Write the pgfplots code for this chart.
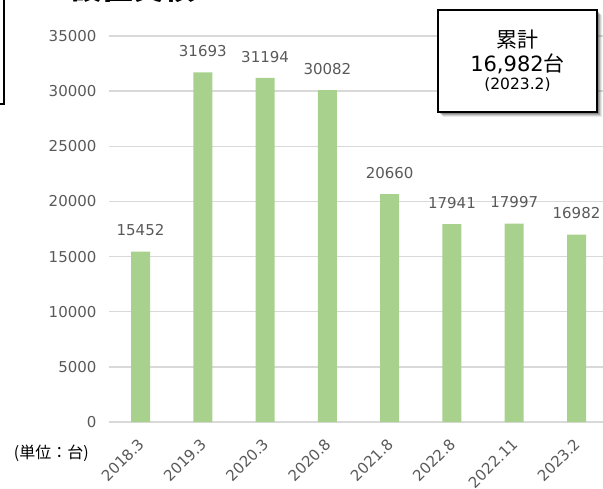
\documentclass[border=0pt]{standalone}
\usepackage{fontspec}
\setmainfont{DejaVu Sans}
\newfontfamily\cjk{Noto Sans CJK JP}
\usepackage{pgfplots}
\pgfplotsset{compat=1.18}
\definecolor{bargreen}{HTML}{A9D18E}
\definecolor{gridc}{HTML}{D9D9D9}
\definecolor{txt}{HTML}{595959}
\begin{document}
\begin{tikzpicture}[x=1pt,y=1pt]
\useasboundingbox (0,0) rectangle (603,488);
\clip (0,0) rectangle (603,488);
% partial box at left edge
\draw[line width=2.6pt, black] (-20,384) -- (4,384) -- (4,500);
% title (cut off at top)
\node[anchor=base west, inner sep=0pt, font=\cjk\bfseries\fontsize{31}{34}\selectfont] at (71,488.5) {設置実績};
\begin{axis}[
  at={(109pt,66pt)}, anchor=south west,
  scale only axis, width=494pt, height=386pt,
  xmin=-0.506, xmax=7.425, ymin=0, ymax=35000,
  axis line style={draw=none},
  ytick={0,5000,...,35000},
  ymajorgrids, major grid style={draw=gridc, line width=1.4pt},
  xtick={0,...,7},
  xticklabels={2018.3,2019.3,2020.3,2020.8,2021.8,2022.8,2022.11,2023.2},
  major tick length=0pt,
  tick style={draw=none},
  scaled y ticks=false,
  /pgf/number format/.cd, 1000 sep={}, assume math mode=true,
  /pgfplots/.cd,
  yticklabel style={font=\fontsize{15}{18}\selectfont, text=txt, xshift=-9pt},
  xticklabel style={font=\fontsize{15}{18}\selectfont, text=txt, xshift=-3.5pt, yshift=-10.5pt, rotate=45, anchor=north east},
  ybar, bar width=19pt,
  nodes near coords,
  nodes near coords style={font=\fontsize{15}{18}\selectfont, text=txt, yshift=12pt},
]
\addplot[fill=bargreen, draw=none] coordinates {
(0,15452) (1,31693) (2,31194) (3,30082) (4,20660) (5,17941) (6,17997) (7,16982)};
\end{axis}
% unit label
\node[font=\cjk\fontsize{16}{18}\selectfont, anchor=east, inner sep=0pt] at (89,35) {(単位：台)};
% annotation box with shadow
\foreach \o/\a in {5/0.08,4/0.12,3.2/0.16,2.4/0.2}{
  \fill[black, opacity=\a] (438+\o,376-\o) rectangle (597+\o,478-\o);
}
\draw[line width=1.5pt, black, fill=white] (438,376) rectangle (597,478);
\node[font=\cjk\fontsize{21}{24}\selectfont] at (517.5,448) {累計};
\node[font=\fontsize{21}{24}\selectfont] at (517.5,424) {16,982{\cjk 台}};
\node[font=\fontsize{15.5}{18}\selectfont] at (517.5,403) {(2023.2)};
\end{tikzpicture}
\end{document}
